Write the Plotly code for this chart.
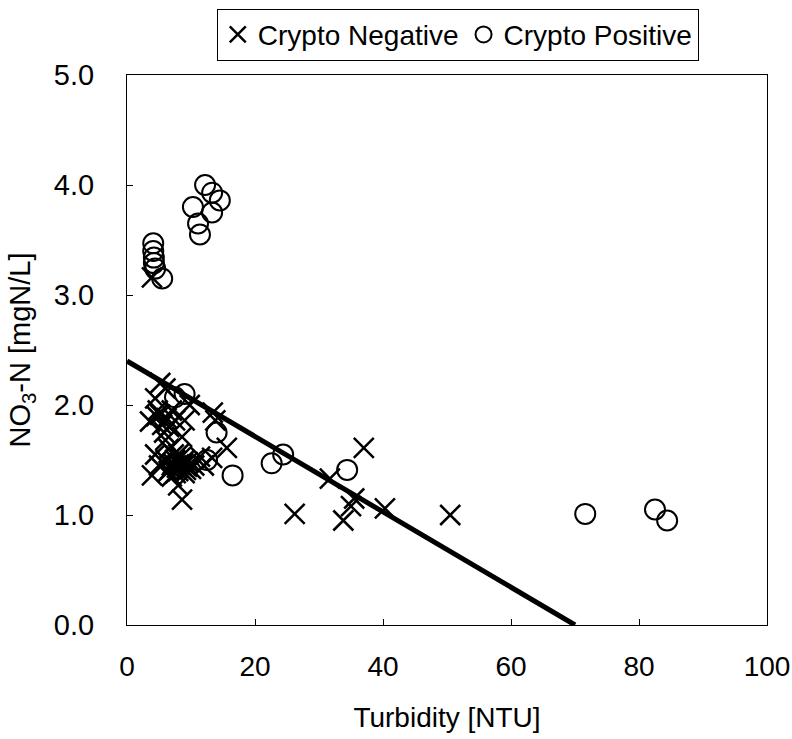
import plotly.graph_objects as go

# Crypto Negative (x markers)
neg_x = [3.9, 5.2, 6.0, 4.4, 3.6, 5.2, 7.0, 7.5, 9.0, 8.6, 6.0, 9.8, 13.8, 13.4, 15.6,
         13.3, 11.4, 4.4, 3.9, 5.0, 6.0, 6.5, 7.0, 7.5, 8.0, 8.5, 9.0, 9.5, 10.0, 10.5,
         7.0, 8.0, 6.5, 9.0, 8.0, 8.6, 12.0, 7.8, 8.8, 9.2, 7.2, 5.5, 4.8, 6.2,
         6.8, 7.6, 8.3, 9.4, 8.1, 7.3, 6.6, 5.8, 4.6,
         26.2, 31.7, 33.8, 35.5, 35.0, 37.0, 40.3, 50.5]
neg_y = [3.16, 2.20, 2.15, 2.06, 1.85, 1.91, 1.95, 1.86, 1.86, 1.71, 1.68, 2.00, 1.86, 1.93, 1.61,
         1.52, 1.53, 1.55, 1.36, 1.45, 1.50, 1.40, 1.45, 1.50, 1.40, 1.45, 1.38, 1.48, 1.42, 1.45,
         1.35, 1.55, 1.60, 1.50, 1.27, 1.14, 1.45, 1.43, 1.47, 1.41, 1.47, 1.82, 1.95, 1.88,
         1.42, 1.38, 1.52, 1.44, 1.46, 1.55, 1.80, 1.75, 1.90,
         1.01, 1.33, 0.95, 1.15, 1.08, 1.61, 1.06, 1.00]

# Crypto Positive (open circles)
pos_x = [4.1, 4.1, 4.2, 4.2, 4.4, 5.5, 10.3, 11.1, 11.4, 12.2, 13.3, 13.3, 14.5, 7.5, 9.0,
         14.0, 16.5, 12.5, 22.6, 24.4, 34.4, 71.6, 82.5, 84.4]
pos_y = [3.47, 3.40, 3.34, 3.29, 3.24, 3.15, 3.80, 3.65, 3.55, 4.00, 3.93, 3.75, 3.86, 2.07, 2.10,
         1.75, 1.36, 1.50, 1.47, 1.55, 1.41, 1.01, 1.05, 0.95]

# Fitted line endpoints
line_x = [0, 70]
line_y = [2.4, 0.0]

x_ticks = [0, 20, 40, 60, 80, 100]
y_ticks = [0.0, 1.0, 2.0, 3.0, 4.0, 5.0]

fig = go.Figure()
fig.add_trace(go.Scatter(x=line_x, y=line_y, mode="lines",
                         line=dict(color="black", width=5), showlegend=False))
fig.add_trace(go.Scatter(x=neg_x, y=neg_y, mode="markers", name="Crypto Negative",
                         marker=dict(symbol="x-thin-open", size=20, color="black",
                                     line=dict(color="black", width=2.5))))
fig.add_trace(go.Scatter(x=pos_x, y=pos_y, mode="markers", name="Crypto Positive",
                         marker=dict(symbol="circle-open", size=20, color="black",
                                     line=dict(color="black", width=2))))

font = "Liberation Sans, Arial, sans-serif"
fig.update_layout(
    width=792, height=739,
    margin=dict(l=127, r=25, t=75, b=114, autoexpand=False),
    paper_bgcolor="white", plot_bgcolor="white",
    font=dict(family=font, color="black", size=28),
    legend=dict(orientation="h", xref="container", yref="container",
                x=0.578, y=0.953, xanchor="center", yanchor="middle",
                bordercolor="black", borderwidth=1, font=dict(size=28),
                itemwidth=30, tracegroupgap=0),
    xaxis=dict(range=[0, 100], tickvals=x_ticks, ticks="inside", ticklen=6,
               tickcolor="black", showline=True, linecolor="black", linewidth=1,
               mirror=True, showgrid=False, zeroline=False, automargin=False,
               ticklabeloverflow="allow",
               tickfont=dict(size=28),
               ticklabelstandoff=16,
               title=dict(text="Turbidity [NTU]", font=dict(size=28), standoff=26)),
    yaxis=dict(range=[0, 5], tickvals=y_ticks, tickformat=".1f", ticks="inside",
               ticklen=6, tickcolor="black", showline=True, linecolor="black",
               linewidth=1, mirror=True, showgrid=False, zeroline=False, automargin=False,
               tickfont=dict(size=29),
               ticklabelstandoff=26,
               title=dict(text="NO<sub>3</sub>-N [mgN/L]", font=dict(size=29), standoff=14)),
)

fig.write_html("out.html")
